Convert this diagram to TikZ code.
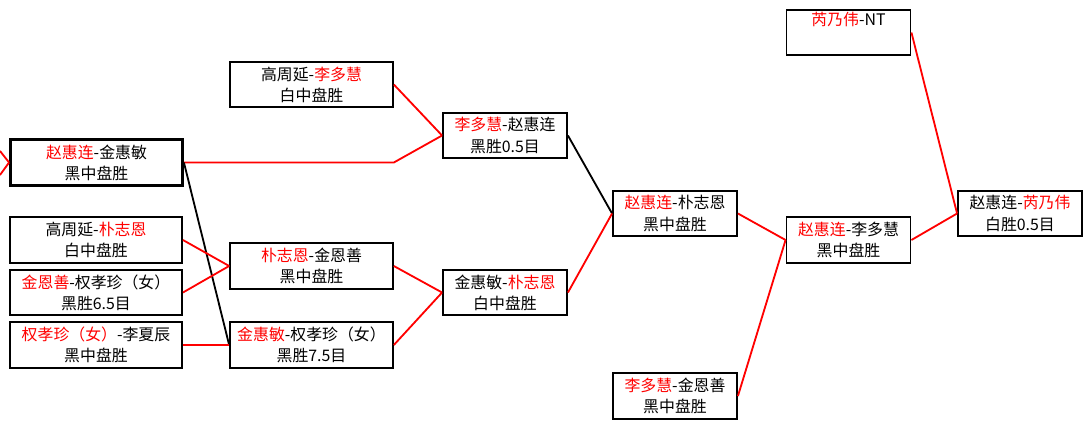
\documentclass[tikz,border=0pt]{standalone}
\usepackage{fontspec}
\newfontfamily\cjk{Noto Sans CJK SC}
\usetikzlibrary{positioning}
\newcommand{\rname}[1]{\textcolor{red}{#1}}
\tikzset{
  game/.style={draw,line width=1.3pt,align=center,inner sep=0pt,minimum height=1.13cm,fill=white},
  wide/.style={game,minimum width=4.3cm},
  mid/.style={game,minimum width=4.07cm},
  narrow/.style={game,minimum width=3.1cm},
  win/.style={red,line width=1.3pt},
  lose/.style={black,line width=1.3pt},
}
\begin{document}
\begin{tikzpicture}[x=0.025cm,y=-0.025cm,font=\cjk\fontsize{11.3}{15}\selectfont]
\useasboundingbox[fill=white] (0,0) rectangle (1092,429);
\node[wide,line width=2pt] (a) at (96.5,162.5) {\rname{赵惠连}-金惠敏\\黑中盘胜};
\node[wide] (d) at (96,240) {高周延-\rname{朴志恩}\\白中盘胜};
\node[wide] (e) at (96,292.5) {\rname{金恩善}-权孝珍（女）\\黑胜6.5目};
\node[wide] (f) at (96,345) {\rname{权孝珍（女）}-李夏辰\\黑中盘胜};
\node[mid] (b) at (311.5,84.5) {高周延-\rname{李多慧}\\白中盘胜};
\node[mid] (g) at (311.5,266) {\rname{朴志恩}-金恩善\\黑中盘胜};
\node[mid] (h) at (311.5,345) {\rname{金惠敏}-权孝珍（女）\\黑胜7.5目};
\node[narrow] (c) at (505,135.5) {\rname{李多慧}-赵惠连\\黑胜0.5目};
\node[narrow] (i) at (505,292.5) {金惠敏-\rname{朴志恩}\\白中盘胜};
\node[narrow] (j) at (675,213.5) {\rname{赵惠连}-朴志恩\\黑中盘胜};
\node[narrow] (k) at (675,396) {\rname{李多慧}-金恩善\\黑中盘胜};
\node[narrow] (l) at (848.5,240) {\rname{赵惠连}-李多慧\\黑中盘胜};
\node[narrow] (m) at (848.5,32.5) {\rname{芮乃伟}-NT\\\strut};
\node[narrow] (n) at (1020,213.5) {赵惠连-\rname{芮乃伟}\\白胜0.5目};
\coordinate (in1) at (0,151);
\coordinate (in2) at (0,175);
\draw[win] (in1) -- (a.west);
\draw[win] (in2) -- (a.west);
\draw[win] (a.east) -- (a.east -| b.east) -- (c.west);
\draw[win] (b.east) -- (c.west);
\draw[lose] (a.east) -- (h.west);
\draw[win] (d.east) -- (g.west);
\draw[win] (e.east) -- (g.west);
\draw[win] (f.east) -- (h.west);
\draw[win] (g.east) -- (i.west);
\draw[win] (h.east) -- (i.west);
\draw[lose] (c.east) -- (j.west);
\draw[win] (i.east) -- (j.west);
\draw[win] (j.east) -- (l.west);
\draw[win] (k.east) -- (l.west);
\draw[win] (l.east) -- (n.west);
\draw[win] (m.east) -- (n.west);
\end{tikzpicture}
\end{document}
